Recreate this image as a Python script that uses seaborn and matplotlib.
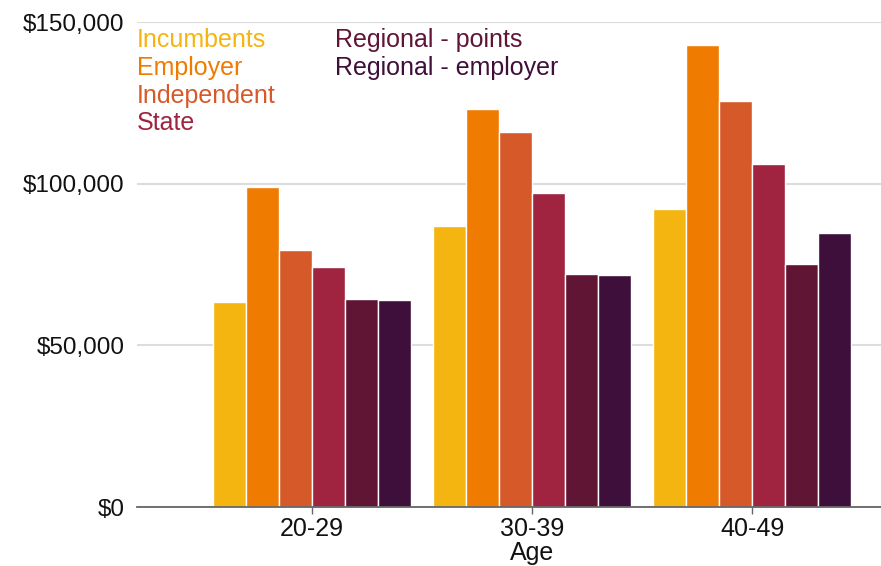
import matplotlib
matplotlib.use("Agg")
import matplotlib.pyplot as plt
import seaborn as sns
import pandas as pd
from matplotlib.ticker import FuncFormatter

# Mean salary by age band and pathway
ages = ["20-29", "30-39", "40-49"]
pathways = ["Incumbents", "Employer", "Independent", "State",
            "Regional - points", "Regional - employer"]
incumbents = [63400, 86900, 92200]
employer = [99000, 123100, 142900]
independent = [79500, 116000, 125600]
state = [74200, 97100, 106100]
regional_points = [64300, 72100, 75200]
regional_employer = [64000, 71800, 84800]
colors = ["#F5B511", "#EF7B00", "#D6592A", "#A0243F", "#601535", "#3E0F3A"]

series = [incumbents, employer, independent, state, regional_points, regional_employer]
rows = []
for name, vals in zip(pathways, series):
    for age, v in zip(ages, vals):
        rows.append({"Age": age, "Pathway": name, "Salary": v})
df = pd.DataFrame(rows)

sns.set_theme(style="white")
plt.rcParams["font.family"] = ["Liberation Sans", "DejaVu Sans"]

W, H = 881, 566
fig = plt.figure(figsize=(W / 100, H / 100), dpi=100)
ax = fig.add_axes([137 / W, (H - 507) / H, (W - 137) / W, (507 - 22) / H])

sns.barplot(data=df, x="Age", y="Salary", hue="Pathway", hue_order=pathways,
            order=ages, palette=colors, saturation=1, width=0.9,
            edgecolor="white", linewidth=1.0, legend=False, errorbar=None, ax=ax)

ax.set_ylim(0, 150000)
ax.set_xlim(-0.795, 2.586)
ax.set_yticks([0, 50000, 100000, 150000])
ax.yaxis.set_major_formatter(FuncFormatter(lambda v, p: f"${v:,.0f}"))
ax.grid(axis="y", color="#dddddd", linewidth=1.5)
ax.set_axisbelow(True)

for side in ["top", "right", "left"]:
    ax.spines[side].set_visible(False)
ax.spines["bottom"].set_color("#666666")
ax.spines["bottom"].set_linewidth(1.3)

ax.tick_params(axis="y", length=0, pad=9, labelsize=17.5, labelcolor="#111111")
ax.tick_params(axis="x", length=5, width=1, color="#666666", pad=2,
               labelsize=18, labelcolor="#111111", bottom=True)
ax.set_xlabel("Age", fontsize=18, color="#111111", labelpad=0, x=0.531)
ax.set_ylabel("")

# Colored text legend in two columns
legend_pos = [(137, 40), (137, 68), (137, 96), (137, 123), (335, 40), (335, 68)]
for name, c, (px, py) in zip(pathways, colors, legend_pos):
    fig.text(px / W, 1 - py / H, name, color=c, fontsize=18,
             ha="left", va="center")

fig.savefig("out.png", dpi=100)
